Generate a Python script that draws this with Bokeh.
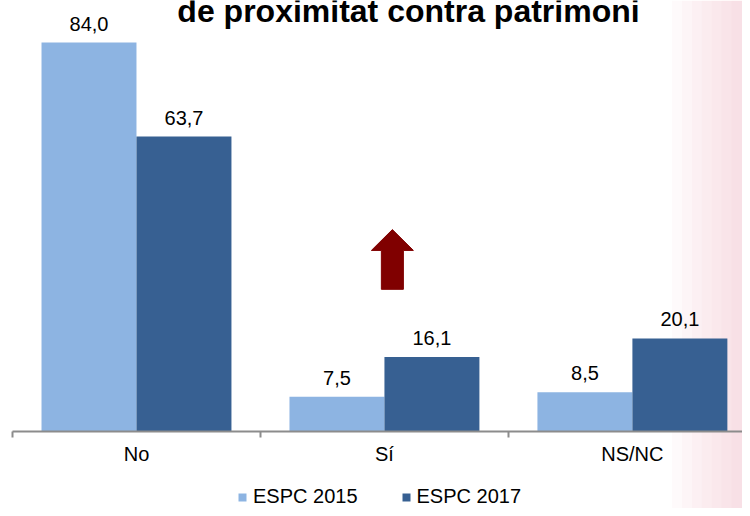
from bokeh.plotting import figure
from bokeh.models import (ColumnDataSource, Range1d, FixedTicker, Legend, LegendItem)
from bokeh.core.properties import value
from bokeh.embed import file_html
from bokeh.resources import INLINE

# ---- data ----
categories = ["No", "Sí", "NS/NC"]
espc_2015 = [84.0, 7.5, 8.5]
espc_2017 = [63.7, 16.1, 20.1]
series_names = ["ESPC 2015", "ESPC 2017"]
title_text = "de proximitat contra patrimoni"

# ---- style ----
C2015 = "#8DB4E2"
C2017 = "#376092"
FONT = "Liberation Sans"
BAR_W = 0.383
OFF = BAR_W / 2
X0, X1 = -0.0484, 2.944
Y0, Y1 = -16.63, 93.07

centers = [i + 0.5 for i in range(len(categories))]

def fmt(v):
    return f"{v:.1f}".replace(".", ",")

p = figure(width=742, height=508, output_backend="svg", toolbar_location=None,
           x_range=Range1d(X0, X1), y_range=Range1d(Y0, Y1),
           y_axis_location=None, x_axis_location="below",
           min_border_left=0, min_border_right=0, min_border_top=0, min_border_bottom=0)
p.outline_line_color = None
p.grid.visible = False
p.background_fill_color = "white"
p.border_fill_color = "white"

# faint pink backdrop on right edge (decoration, soft gradient by layering)
pink_lefts = [2.66, 2.70, 2.74, 2.78, 2.82, 2.86, 2.90]
p.quad(left=pink_lefts, right=[X1] * len(pink_lefts), bottom=[Y0] * len(pink_lefts),
       top=[Y1] * len(pink_lefts), fill_color="#efbfcc", fill_alpha=0.07, line_color=None)

src = ColumnDataSource(dict(
    x15=[c - OFF for c in centers], x17=[c + OFF for c in centers],
    v15=espc_2015, v17=espc_2017,
    l15=[fmt(v) for v in espc_2015], l17=[fmt(v) for v in espc_2017],
))

r15 = p.vbar(x="x15", top="v15", bottom=0, width=BAR_W, source=src,
             fill_color=C2015, line_color=None)
r17 = p.vbar(x="x17", top="v17", bottom=0, width=BAR_W, source=src,
             fill_color=C2017, line_color=None)

for xk, lk, vk in (("x15", "l15", "v15"), ("x17", "l17", "v17")):
    p.text(x=xk, y=vk, text=lk, source=src, text_align="center", text_baseline="bottom",
           y_offset=-12, text_font=value(FONT), text_font_size="20px", text_color="#000000")

# title (partly cut off at the top, as in the reference)
p.text(x=[1.597], y=[87.0], text=[title_text], text_align="center", text_baseline="bottom",
       text_font=value(FONT), text_font_size="32px", text_font_style="bold",
       text_color="#000000")

# up arrow annotation near "Sí"
ax, yb, yh, yt = 1.532, 30.7, 39.1, 43.6
sw, hw = 0.0444, 0.0847
p.patch(x=[ax - sw, ax + sw, ax + sw, ax + hw, ax, ax - hw, ax - sw],
        y=[yb, yb, yh, yh, yt, yh, yh], fill_color="#800000", line_color="#800000",
        line_width=1)

# x axis with ticks between categories
xa = p.xaxis[0]
xa.fixed_location = 0
xa.bounds = (0, 3)
xa.ticker = FixedTicker(ticks=centers, minor_ticks=[0, 1, 2, 3])
xa.major_label_overrides = {c: n for c, n in zip(centers, categories)}
xa.major_tick_line_color = None
xa.major_tick_out = 6
xa.minor_tick_in = 0
xa.minor_tick_out = 6
xa.minor_tick_line_color = "#8c8c8c"
xa.minor_tick_line_width = 2
xa.axis_line_color = "#8c8c8c"
xa.axis_line_width = 2
xa.major_label_standoff = 6
xa.major_label_text_font = FONT
xa.major_label_text_font_size = "20px"
xa.major_label_text_color = "#000000"

legend = Legend(items=[LegendItem(label=series_names[0], renderers=[r15]),
                       LegendItem(label=series_names[1], renderers=[r17])],
                location=(237, 0), orientation="horizontal",
                glyph_width=10, glyph_height=10, label_standoff=6, spacing=43,
                padding=0, margin=0, border_line_color=None, background_fill_alpha=0,
                label_text_font=FONT, label_text_font_size="20px",
                label_text_color="#000000")
p.add_layout(legend, "center")

open("out.html", "w").write(file_html(p, INLINE))
